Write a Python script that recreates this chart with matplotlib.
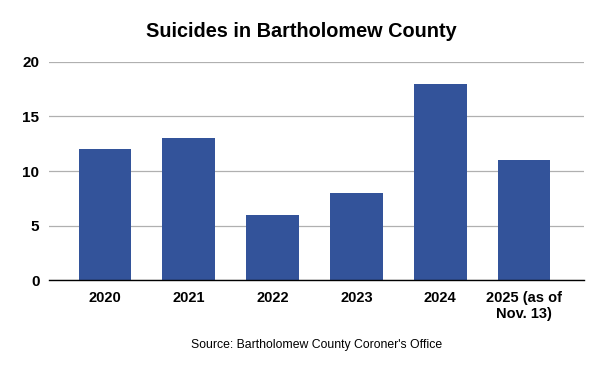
import matplotlib.pyplot as plt

years = ["2020", "2021", "2022", "2023", "2024", "2025 (as of\nNov. 13)"]
suicides = [12, 13, 6, 8, 18, 11]
yticks = [0, 5, 10, 15, 20]

plt.rcParams['font.family'] = ['Liberation Sans', 'DejaVu Sans']

fig = plt.figure(figsize=(6, 3.71), dpi=100)
ax = fig.add_axes([0.082, 0.245, 0.891, 0.588])

x = range(len(years))
ax.bar(x, suicides, width=0.63, color="#33539a", zorder=3)

ax.set_xlim(-0.667, len(years) - 1 + 0.714)
ax.set_ylim(0, 20)
ax.set_yticks(yticks)
ax.set_yticklabels([str(t) for t in yticks], fontweight="bold", fontsize=11)
ax.set_xticks(list(x))
ax.set_xticklabels(years, fontweight="bold", fontsize=10.5, linespacing=1.15)
ax.tick_params(axis="both", length=0)
ax.tick_params(axis="y", pad=7)
ax.tick_params(axis="x", pad=8)

ax.grid(axis="y", color="#b0b0b0", linewidth=0.9, zorder=0)
for s in ["top", "right", "left"]:
    ax.spines[s].set_visible(False)
ax.spines["bottom"].set_color("black")
ax.spines["bottom"].set_linewidth(1.0)
ax.spines["bottom"].set_zorder(4)

fig.text(0.503, 0.915, "Suicides in Bartholomew County", ha="center", va="center",
         fontsize=14.3, fontweight="bold")
fig.text(0.527, 0.07, "Source: Bartholomew County Coroner's Office", ha="center",
         va="center", fontsize=8.8)

fig.savefig("out.png", dpi=100, facecolor="white")
